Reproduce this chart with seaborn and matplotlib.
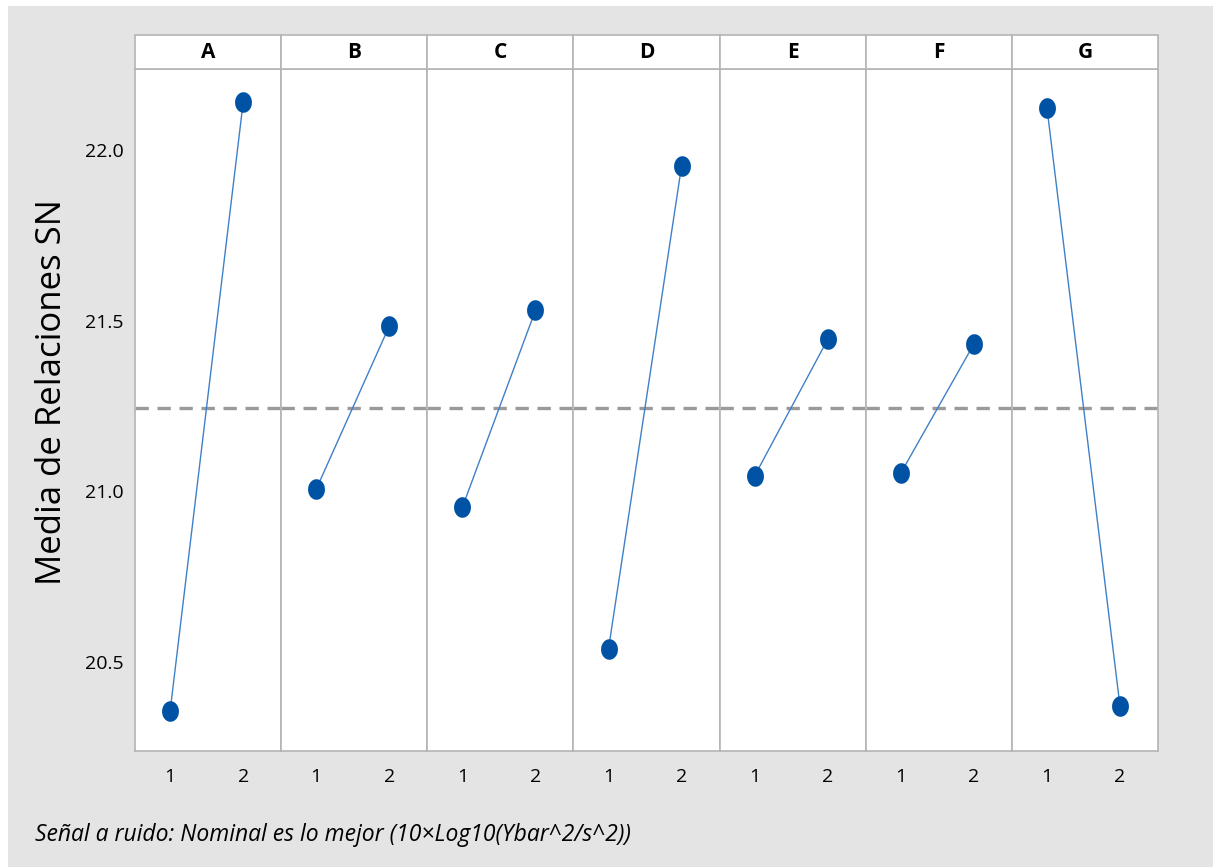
import numpy as np
import pandas as pd
import matplotlib
matplotlib.use("Agg")
import matplotlib.pyplot as plt
from matplotlib.path import Path
from matplotlib.patches import Rectangle
import seaborn as sns

# main effects of SN ratio per factor level
factors = ["A", "B", "C", "D", "E", "F", "G"]
levels = [1, 2]
level1 = [20.355, 21.006, 20.953, 20.538, 21.045, 21.053, 22.124]
level2 = [22.139, 21.484, 21.530, 21.953, 21.445, 21.431, 20.370]
y_ticks = [20.5, 21.0, 21.5, 22.0]
y_label = "Media de Relaciones SN"
footer = "Señal a ruido: Nominal es lo mejor (10×Log10(Ybar^2/s^2))"

rows = []
for f, v1, v2 in zip(factors, level1, level2):
    rows.append((f, levels[0], v1))
    rows.append((f, levels[1], v2))
df = pd.DataFrame(rows, columns=["factor", "level", "value"])
grand_mean = df["value"].mean()

sns.set_style("white")
plt.rcParams["font.family"] = ["Open Sans", "DejaVu Sans"]
plt.rcParams["text.color"] = "black"

W, H = 1213, 867
bg = "#e4e4e4"
edge = "#b4b4b4"

# slightly tall ellipse marker like the Minitab one
t = np.linspace(0, 2 * np.pi, 40)
ell = Path(np.column_stack([0.82 * np.cos(t), np.sin(t)]), closed=True)

g = sns.FacetGrid(df, col="factor", col_order=factors, sharey=True,
                  despine=False, height=4, aspect=0.4)
g.map_dataframe(sns.lineplot, x="level", y="value", color="#3f80c8",
                linewidth=1.0, zorder=2)
g.map_dataframe(sns.scatterplot, x="level", y="value", marker=ell, s=220,
                color="#0053a4", edgecolor="#0053a4", linewidth=0, zorder=3)

fig = g.figure
fig.set_size_inches(W / 100, H / 100)
fig.set_dpi(100)
fig.subplots_adjust(left=135 / W, right=1158 / W, top=1 - 69 / H,
                    bottom=1 - 751 / H, wspace=0)
fig.patch.set_facecolor("white")
fig.patches.append(Rectangle((8 / W, 0), 1, 1 - 6 / H, transform=fig.transFigure,
                             facecolor=bg, edgecolor="none", zorder=-10))

g.set_titles("")
g.set_axis_labels("", "")
strip_h = 34 / 682
for i, (ax, f) in enumerate(zip(g.axes.flat, factors)):
    ax.axhline(grand_mean, color="#9a9a9a", lw=2.4, ls=(0, (4, 2.6)), zorder=1)
    ax.set_xlim(0.52, 2.52)
    ax.set_ylim(20.239, 22.237)
    ax.set_xticks(levels)
    ax.set_xticklabels([str(l) for l in levels])
    ax.set_yticks(y_ticks)
    ax.set_yticklabels([f"{v:.1f}" for v in y_ticks])
    ax.set_xlabel("")
    ax.set_ylabel("")
    ax.set_facecolor("white")
    for sp in ax.spines.values():
        sp.set_color(edge)
        sp.set_linewidth(1.2)
    ax.tick_params(axis="x", length=5, width=1, color="#999999",
                   labelsize=14, labelcolor="black", pad=7)
    if i == 0:
        ax.tick_params(axis="y", length=5, width=1, color="#999999",
                       labelsize=14, labelcolor="black", labelleft=True, pad=3)
    else:
        ax.tick_params(axis="y", length=0, labelleft=False)
    for lab in ax.get_xticklabels() + ax.get_yticklabels():
        lab.set_fontweight("medium")
    ax.add_patch(Rectangle((0, 1), 1, strip_h, transform=ax.transAxes,
                           facecolor="white", edgecolor=edge, lw=1.2,
                           clip_on=False, zorder=5))
    ax.text(0.5, 1 + strip_h / 2, f, transform=ax.transAxes, ha="center",
            va="center", fontsize=15, fontweight="bold", color="black", zorder=6)

fig.text(52 / W, 1 - 392 / H, y_label, rotation=90, ha="center", va="center",
         fontsize=25, color="black")
fig.text(35 / W, 1 - 835 / H, footer, ha="left", va="center", fontsize=16.5,
         style="italic", color="black")

fig.savefig("out.png", dpi=100, facecolor=fig.get_facecolor())
